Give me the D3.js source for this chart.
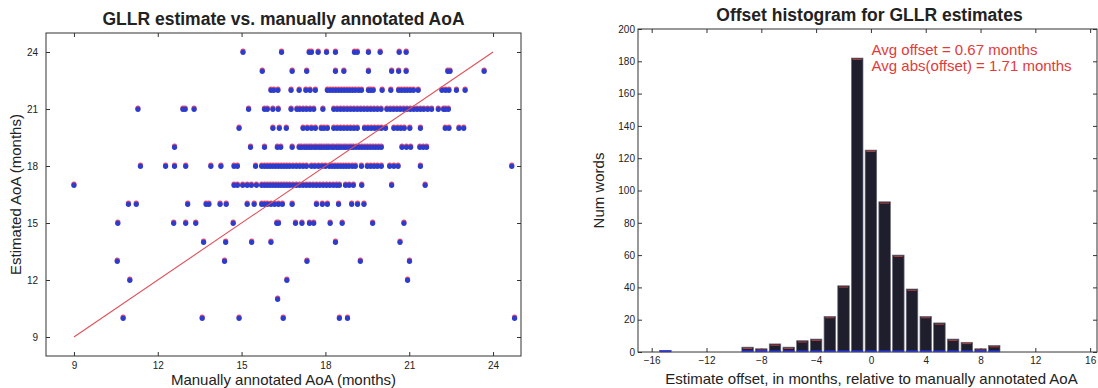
<!DOCTYPE html>
<html>
<head>
<meta charset="utf-8">
<script src="https://cdn.jsdelivr.net/npm/d3@7"></script>
<style>
  body { margin: 0; background: #fff; }
  svg { font-family: "Liberation Sans", Arial, sans-serif; }
  .axis path, .axis line { stroke: #333; }
  .axis text { fill: #222; font-size: 10px; }
</style>
</head>
<body>
<svg id="chart" width="1098" height="388"></svg>
<script>
// scatter: estimated AoA rows, each holding the manually annotated AoA of its words
const est24 = [15.05, 16.43, 17.42, 17.5, 17.74, 18.04, 18.36, 19.04, 19.14, 19.54, 19.96, 20.64, 20.89];
const est23 = [15.74, 16.81, 17.33, 18.36, 18.66, 19.54, 20.37, 20.62, 20.89, 22.38, 22.46, 23.68];
const est22 = [16.05, 16.15, 16.3, 16.77, 17.06, 17.3, 17.45, 17.64, 18.07, 18.17, 18.27, 18.37, 18.47, 18.57,
  18.67, 18.77, 18.87, 18.97, 19.07, 19.19, 19.29, 19.54, 19.62, 19.71, 20.03, 20.34, 20.62, 20.72, 20.83,
  20.93, 21.04, 21.15, 21.32, 22.17, 22.3, 22.42, 22.69, 23.0];
const est21 = [11.29, 12.9, 12.98, 13.3, 15.25, 15.82, 15.92, 16.12, 16.31, 16.77, 16.98, 17.08, 17.2, 17.32,
  17.45, 17.58, 17.91, 18.3, 18.42, 18.54, 18.66, 18.78, 18.9, 19.02, 19.14, 19.26, 19.38, 19.5, 19.62, 19.74,
  19.86, 19.99, 20.2, 20.32, 20.44, 20.56, 20.68, 20.8, 20.92, 21.04, 21.16, 21.28, 21.4, 21.52, 21.66, 21.8,
  22.04, 22.23, 22.3, 22.4];
const est20 = [14.91, 16.12, 16.35, 16.6, 17.2, 17.35, 17.5, 17.64, 17.85, 17.95, 18.07, 18.3, 18.42, 18.54,
  18.66, 18.78, 18.9, 19.02, 19.14, 19.4, 19.52, 19.64, 19.76, 19.88, 20.0, 20.15, 20.45, 20.58, 20.7, 20.82,
  21.02, 21.4, 22.29, 22.42, 22.78, 22.95];
const est19 = [12.6, 15.32, 15.82, 16.28, 16.4, 16.81, 17.06, 17.14, 17.24, 17.33, 17.42, 17.5, 17.6, 17.68,
  17.78, 17.86, 17.95, 18.04, 18.12, 18.22, 18.3, 18.4, 18.48, 18.56, 18.66, 18.74, 18.84, 18.92, 19.0, 19.1,
  19.2, 19.3, 19.4, 19.5, 19.6, 19.7, 19.8, 19.9, 20.0, 20.74, 20.9, 21.05, 21.38, 21.5, 21.62];
const est18 = [11.38, 12.28, 12.6, 13.0, 13.9, 14.26, 14.73, 14.85, 15.5, 15.72, 15.82, 15.92, 16.02, 16.12,
  16.22, 16.32, 16.42, 16.52, 16.62, 16.72, 16.84, 16.96, 17.08, 17.2, 17.32, 17.5, 17.62, 17.75, 17.88, 18.0,
  18.14, 18.24, 18.34, 18.44, 18.54, 18.64, 18.74, 18.84, 18.96, 19.07, 19.29, 19.5, 19.62, 19.74, 19.86, 20.0,
  20.3, 20.45, 20.6, 21.4, 24.67];
const est17 = [9.0, 14.73, 14.85, 15.04, 15.2, 15.35, 15.53, 15.72, 15.82, 15.92, 16.02, 16.12, 16.22, 16.32,
  16.42, 16.52, 16.62, 16.72, 16.84, 16.96, 17.08, 17.2, 17.32, 17.44, 17.56, 17.68, 17.8, 17.92, 18.04, 18.16,
  18.28, 18.4, 18.5, 18.72, 18.85, 19.0, 19.3, 20.37, 21.57];
const est16 = [10.95, 11.23, 13.07, 13.73, 13.83, 14.23, 14.45, 15.2, 15.45, 15.72, 15.82, 15.92, 16.05, 16.18,
  16.32, 16.46, 16.81, 17.68, 17.89, 18.07, 18.47, 18.94, 19.15, 19.38];
const est15 = [10.57, 12.57, 13.0, 13.36, 14.7, 16.26, 16.32, 16.93, 17.16, 17.43, 17.58, 18.17, 18.6, 19.69, 20.81];
const est14 = [13.64, 14.43, 15.36, 16.05, 18.36, 20.67];
const est13 = [10.55, 14.39, 17.34, 19.25, 21.01];
const est12 = [11.0, 16.62, 20.94];
const est11 = [16.29];
const est10 = [10.76, 13.59, 14.91, 16.49, 18.5, 18.79, 24.77];

const scatterTicks = [9, 12, 15, 18, 21, 24];
const identityLine = [9, 24];

// histogram of offsets
const offsets = [-15, -9, -8, -7, -6, -5, -4, -3, -2, -1, 0, 1, 2, 3, 4, 5, 6, 7, 8, 9];
const counts = [1, 3, 2, 5, 3, 7, 8, 22, 41, 182, 125, 93, 60, 39, 22, 18, 8, 6, 2, 4];
const histXTicks = [-16, -12, -8, -4, 0, 4, 8, 12, 16];
const histYTicks = [0, 20, 40, 60, 80, 100, 120, 140, 160, 180, 200];
const notes = ['Avg offset = 0.67 months', 'Avg abs(offset) = 1.71 months'];

const svg = d3.select('#chart');

// ---------------- left: scatter ----------------
const xL = d3.scaleLinear().domain([8, 25]).range([46, 521]);
const yL = d3.scaleLinear().domain([8, 25]).range([356, 33]);

const rows = [
  [24, est24], [23, est23], [22, est22], [21, est21], [20, est20], [19, est19], [18, est18],
  [17, est17], [16, est16], [15, est15], [14, est14], [13, est13], [12, est12], [11, est11], [10, est10]
];
const points = [];
rows.forEach(function(r) { r[1].forEach(function(v) { points.push({ x: v, y: r[0] }); }); });

const left = svg.append('g');
left.append('rect').attr('x', xL(8)).attr('y', yL(25))
  .attr('width', xL(25) - xL(8)).attr('height', yL(8) - yL(25))
  .attr('fill', 'none').attr('stroke', '#333');

left.append('g').attr('class', 'axis').attr('transform', 'translate(0,' + yL(8) + ')')
  .call(d3.axisBottom(xL).tickValues(scatterTicks).tickSize(-4).tickSizeOuter(0).tickPadding(6));
left.append('g').attr('class', 'axis').attr('transform', 'translate(0,' + yL(25) + ')')
  .call(d3.axisTop(xL).tickValues(scatterTicks).tickSize(-4).tickSizeOuter(0).tickFormat(''));
left.append('g').attr('class', 'axis').attr('transform', 'translate(' + xL(8) + ',0)')
  .call(d3.axisLeft(yL).tickValues(scatterTicks).tickSize(-4).tickSizeOuter(0).tickPadding(8));
left.append('g').attr('class', 'axis').attr('transform', 'translate(' + xL(25) + ',0)')
  .call(d3.axisRight(yL).tickValues(scatterTicks).tickSize(-4).tickSizeOuter(0).tickFormat(''));
left.selectAll('.axis .domain').remove();

// red edge peeking above each blue dot
left.append('g').selectAll('circle').data(points).enter().append('circle')
  .attr('cx', d => xL(d.x)).attr('cy', d => yL(d.y) - 1).attr('r', 2.6)
  .attr('fill', '#d84a72');
left.append('g').selectAll('circle').data(points).enter().append('circle')
  .attr('cx', d => xL(d.x)).attr('cy', d => yL(d.y) + 0.3).attr('r', 2.6)
  .attr('fill', '#2c3ccc');

left.append('line')
  .attr('x1', xL(identityLine[0])).attr('y1', yL(identityLine[0]))
  .attr('x2', xL(identityLine[1])).attr('y2', yL(identityLine[1]))
  .attr('stroke', '#e0505a').attr('stroke-width', 1.1);

left.append('text').attr('x', (xL(8) + xL(25)) / 2).attr('y', 25)
  .attr('text-anchor', 'middle').style('font-weight', 'bold').style('font-size', '17.5px')
  .attr('fill', '#222').text('GLLR estimate vs. manually annotated AoA');
left.append('text').attr('x', (xL(8) + xL(25)) / 2).attr('y', 385)
  .attr('text-anchor', 'middle').style('font-size', '15px').attr('fill', '#222')
  .text('Manually annotated AoA (months)');
left.append('text').attr('transform', 'translate(21,' + (yL(8) + yL(25)) / 2 + ') rotate(-90)')
  .attr('text-anchor', 'middle').style('font-size', '15px').attr('fill', '#222')
  .text('Estimated AoA (months)');

// ---------------- right: histogram ----------------
const xR = d3.scaleLinear().domain([-17, 16.5]).range([638, 1097]);
const yR = d3.scaleLinear().domain([0, 200]).range([352, 29]);
const barW = (xR(1) - xR(0)) * 0.84;

const right = svg.append('g');
right.append('rect').attr('x', xR(-17)).attr('y', yR(200))
  .attr('width', xR(16.5) - xR(-17)).attr('height', yR(0) - yR(200))
  .attr('fill', 'none').attr('stroke', '#333');

right.append('g').attr('class', 'axis').attr('transform', 'translate(0,' + yR(0) + ')')
  .call(d3.axisBottom(xR).tickValues(histXTicks).tickSize(-4).tickSizeOuter(0).tickPadding(5)
    .tickFormat(d => d < 0 ? '\u2212' + Math.abs(d) : d));
right.append('g').attr('class', 'axis').attr('transform', 'translate(0,' + yR(200) + ')')
  .call(d3.axisTop(xR).tickValues(histXTicks).tickSize(-4).tickSizeOuter(0).tickFormat(''));
right.append('g').attr('class', 'axis').attr('transform', 'translate(' + xR(-17) + ',0)')
  .call(d3.axisLeft(yR).tickValues(histYTicks).tickSize(-4).tickSizeOuter(0).tickPadding(3));
right.append('g').attr('class', 'axis').attr('transform', 'translate(' + xR(16.5) + ',0)')
  .call(d3.axisRight(yR).tickValues(histYTicks).tickSize(-4).tickSizeOuter(0).tickFormat(''));
right.selectAll('.axis .domain').remove();

const bars = right.append('g').selectAll('g').data(offsets).enter().append('g');
bars.append('rect')
  .attr('x', d => xR(d) - barW / 2).attr('width', barW)
  .attr('y', (d, i) => yR(counts[i])).attr('height', (d, i) => yR(0) - yR(counts[i]))
  .attr('fill', '#1e1e2c').attr('stroke', '#6a6a78').attr('stroke-width', 0.7);
bars.append('line')
  .attr('x1', d => xR(d) - barW * 0.4).attr('x2', d => xR(d) + barW * 0.4)
  .attr('y1', (d, i) => yR(counts[i]) + 1.3).attr('y2', (d, i) => yR(counts[i]) + 1.3)
  .attr('stroke', '#d84a4a').attr('stroke-width', 0.8);
bars.append('line')
  .attr('x1', d => xR(d) - barW / 2).attr('x2', d => xR(d) + barW / 2)
  .attr('y1', yR(0) - 0.8).attr('y2', yR(0) - 0.8)
  .attr('stroke', '#2a3ad0').attr('stroke-width', 1.6);

right.append('text').attr('x', (xR(-17) + xR(16.5)) / 2 + 2).attr('y', 21)
  .attr('text-anchor', 'middle').style('font-weight', 'bold').style('font-size', '17.5px')
  .attr('fill', '#222').text('Offset histogram for GLLR estimates');
right.append('text').attr('x', (xR(-17) + xR(16.5)) / 2 + 4).attr('y', 384)
  .attr('text-anchor', 'middle').style('font-size', '15px').attr('fill', '#222')
  .text('Estimate offset, in months, relative to manually annotated AoA');
right.append('text').attr('transform', 'translate(604,' + (yR(0) + yR(200)) / 2 + ') rotate(-90)')
  .attr('text-anchor', 'middle').style('font-size', '15px').attr('fill', '#222')
  .text('Num words');
right.selectAll('text.note').data(notes).enter().append('text').attr('class', 'note')
  .attr('x', xR(0.05)).attr('y', (d, i) => 55 + i * 16)
  .style('font-size', '15px').attr('fill', '#e23a3a').text(d => d);
</script>
</body>
</html>
